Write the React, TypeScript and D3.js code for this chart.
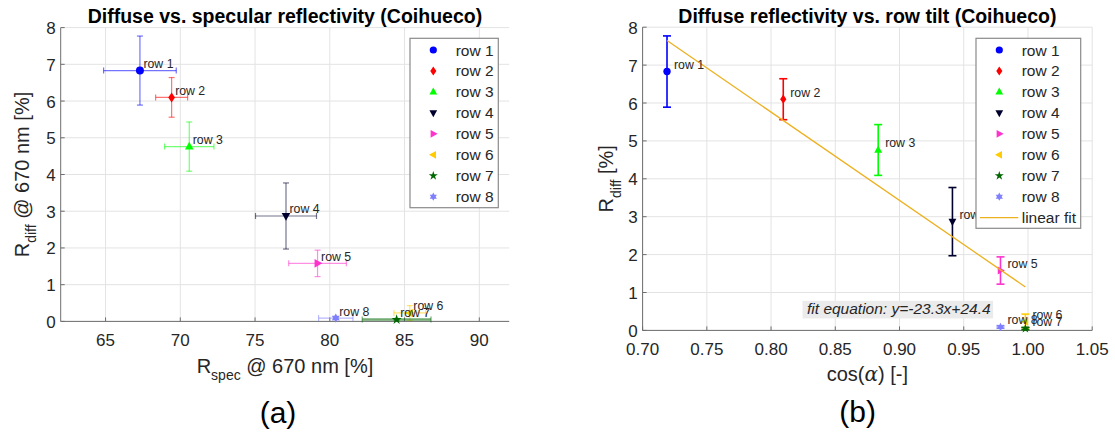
import React from "react";
import * as d3 from "d3";

// ---------- data ----------
const rows = ["row 1", "row 2", "row 3", "row 4", "row 5", "row 6", "row 7", "row 8"];
const rSpec = [67.3, 69.42, 70.6, 77.07, 79.18, 85.35, 84.47, 80.4];
const rSpecErr = [2.43, 1.07, 1.65, 2.04, 1.93, 1.06, 2.3, 1.15];
const rDiff = [6.83, 6.1, 4.76, 2.87, 1.58, 0.23, 0.05, 0.09];
const rDiffErr = [0.94, 0.54, 0.67, 0.9, 0.36, 0.2, 0.03, 0.03];
const cosAlpha = [0.719, 0.8095, 0.8834, 0.9412, 0.9786, 0.998, 0.998, 0.9786];
const fitSlope = -23.3;
const fitIntercept = 24.4;
const xTicksA = [65, 70, 75, 80, 85, 90];
const xTicksB = [0.7, 0.75, 0.8, 0.85, 0.9, 0.95, 1.0, 1.05];
const yTicks = [0, 1, 2, 3, 4, 5, 6, 7, 8];

// ---------- styles ----------
const colors = ["#0000ff", "#ff0000", "#00ff00", "#00002e", "#ff33cc", "#ffcc00", "#006600", "#8080ff"];
const shapes = ["circle", "diamond", "up", "down", "right", "left", "star5", "star6"];
const FONT = "'Liberation Sans', Arial, Helvetica, sans-serif";
const GRID = "#e3e3e3";
const AXIS = "#6e6e6e";
const TXT = "#262626";
const FIT = "#edb120";

function markerPath(shape: string, s = 1): string {
  switch (shape) {
    case "circle":
      return d3.symbol(d3.symbolCircle, 50 * s * s)() as string;
    case "diamond":
      return `M0,${-5 * s}L${3.4 * s},0L0,${5 * s}L${-3.4 * s},0Z`;
    case "up":
      return `M0,${-4.8 * s}L${4.3 * s},${3 * s}L${-4.3 * s},${3 * s}Z`;
    case "down":
      return `M0,${4.8 * s}L${4.3 * s},${-3 * s}L${-4.3 * s},${-3 * s}Z`;
    case "right":
      return `M${4.8 * s},0L${-3 * s},${-4.3 * s}L${-3 * s},${4.3 * s}Z`;
    case "left":
      return `M${-4.8 * s},0L${3 * s},${-4.3 * s}L${3 * s},${4.3 * s}Z`;
    case "star5":
      return d3.symbol(d3.symbolStar, 32 * s * s)() as string;
    case "star6": {
      const R = 4.6 * s, r = 2.6 * s;
      const pts: string[] = [];
      for (let i = 0; i < 12; i++) {
        const a = (Math.PI / 6) * i - Math.PI / 2;
        const rr = i % 2 === 0 ? R : r;
        pts.push(`${(rr * Math.cos(a)).toFixed(2)},${(rr * Math.sin(a)).toFixed(2)}`);
      }
      return "M" + pts.join("L") + "Z";
    }
  }
  return "";
}

type Scale = d3.ScaleLinear<number, number>;

function AxesFrame({ x, y, xTicks, fmt }: { x: Scale; y: Scale; xTicks: number[]; fmt: (v: number) => string }) {
  const [x0, x1] = x.range();
  const [y0, y1] = y.range();
  return (
    <g>
      {xTicks.map((t) => (
        <line key={"gx" + t} x1={x(t)} x2={x(t)} y1={y0} y2={y1} stroke={GRID} strokeWidth={1} />
      ))}
      {yTicks.map((t) => (
        <line key={"gy" + t} x1={x0} x2={x1} y1={y(t)} y2={y(t)} stroke={GRID} strokeWidth={1} />
      ))}
      <line x1={x0} x2={x1} y1={y0} y2={y0} stroke={AXIS} strokeWidth={1} />
      <line x1={x0} x2={x0} y1={y0} y2={y1} stroke={AXIS} strokeWidth={1} />
      {xTicks.map((t) => (
        <g key={"tx" + t}>
          <line x1={x(t)} x2={x(t)} y1={y0} y2={y0 - 4} stroke={AXIS} />
          <text x={x(t)} y={y0 + 24.3} textAnchor="middle" fontSize={17} fill={TXT} fontFamily={FONT}>
            {fmt(t)}
          </text>
        </g>
      ))}
      {yTicks.map((t) => (
        <g key={"ty" + t}>
          <line x1={x0} x2={x0 + 4} y1={y(t)} y2={y(t)} stroke={AXIS} />
          <text x={x0 - 5} y={y(t) + 6.5} textAnchor="end" fontSize={17} fill={TXT} fontFamily={FONT}>
            {t}
          </text>
        </g>
      ))}
    </g>
  );
}

function Legend({ x, y, w, h, rowH, withFit }: { x: number; y: number; w: number; h: number; rowH: number; withFit: boolean }) {
  return (
    <g>
      <rect x={x} y={y} width={w} height={h} fill="#fff" stroke="#8a8a8a" strokeWidth={1.2} />
      {rows.map((r, i) => (
        <g key={r}>
          <path d={markerPath(shapes[i], 0.9)} transform={`translate(${x + 23.3},${y + 11.7 + i * rowH})`} fill={colors[i]} />
          <text x={x + 45.7} y={y + 11.7 + i * rowH + 5.5} fontSize={15.5} fill={TXT} fontFamily={FONT}>
            {r}
          </text>
        </g>
      ))}
      {withFit && (
        <g>
          <line x1={x + 4} x2={x + 42.3} y1={y + 11.7 + 8 * rowH} y2={y + 11.7 + 8 * rowH} stroke={FIT} strokeWidth={1.3} />
          <text x={x + 45.7} y={y + 11.7 + 8 * rowH + 5.5} fontSize={15.5} fill={TXT} fontFamily={FONT}>
            linear fit
          </text>
        </g>
      )}
    </g>
  );
}

export default function App() {
  const xA = d3.scaleLinear().domain([62, 92]).range([60.7, 509.2]);
  const yA = d3.scaleLinear().domain([0, 8]).range([321.4, 27.6]);
  const xB = d3.scaleLinear().domain([0.7, 1.05]).range([642.6, 1092.2]);
  const yB = d3.scaleLinear().domain([0, 8]).range([330.4, 27.2]);

  const fitX = d3.extent(cosAlpha) as [number, number];
  const fitLine = d3
    .line<number>()
    .x((v) => xB(v))
    .y((v) => yB(fitSlope * v + fitIntercept))(fitX) as string;

  const capA = 3;
  const capB = 4;

  return (
    <svg width={1115} height={432} style={{ position: "absolute", left: 0, top: 0, background: "#fff" }} fontFamily={FONT}>
      <rect width={1115} height={432} fill="#fff" />

      {/* ---------- panel (a) ---------- */}
      <AxesFrame x={xA} y={yA} xTicks={xTicksA} fmt={(v) => String(v)} />
      {rows.map((r, i) => {
        const cx = xA(rSpec[i]);
        const cy = yA(rDiff[i]);
        const xl = xA(rSpec[i] - rSpecErr[i]);
        const xr = xA(rSpec[i] + rSpecErr[i]);
        const yt = yA(rDiff[i] + rDiffErr[i]);
        const yb = yA(Math.max(0, rDiff[i] - rDiffErr[i]));
        return (
          <g key={"ea" + r} stroke={colors[i]} strokeOpacity={0.55} strokeWidth={i === 6 ? 2.5 : 1.2}>
            <line x1={xl} x2={xr} y1={cy} y2={cy} />
            <line x1={xl} x2={xl} y1={cy - capA} y2={cy + capA} strokeWidth={1.2} />
            <line x1={xr} x2={xr} y1={cy - capA} y2={cy + capA} strokeWidth={1.2} />
            <line x1={cx} x2={cx} y1={yt} y2={yb} strokeWidth={1.2} />
            <line x1={cx - capA} x2={cx + capA} y1={yt} y2={yt} strokeWidth={1.2} />
            <line x1={cx - capA} x2={cx + capA} y1={yb} y2={yb} strokeWidth={1.2} />
          </g>
        );
      })}
      {rows.map((r, i) => (
        <path key={"ma" + r} d={markerPath(shapes[i])} transform={`translate(${xA(rSpec[i])},${yA(rDiff[i])})`} fill={colors[i]} />
      ))}
      {rows.map((r, i) => (
        <text key={"la" + r} x={xA(rSpec[i]) + 3.5} y={yA(rDiff[i]) - 2.5} fontSize={12.3} fill={TXT} fontFamily={FONT}>
          {r}
        </text>
      ))}
      <Legend x={410} y={38.3} w={88.3} h={169.4} rowH={20.96} withFit={false} />
      <text x={(xA.range()[0] + xA.range()[1]) / 2} y={22.5} textAnchor="middle" fontSize={19.5} fontWeight="bold" fill="#000" fontFamily={FONT}>
        Diffuse vs. specular reflectivity (Coihueco)
      </text>
      <text x={(xA.range()[0] + xA.range()[1]) / 2} y={372.5} textAnchor="middle" fontSize={20} fill={TXT} fontFamily={FONT}>
        R<tspan fontSize={14} dy={7.5}>spec</tspan>
        <tspan dy={-7.5}> @ 670 nm [%]</tspan>
      </text>
      <text transform={`translate(28.5,${(yA.range()[0] + yA.range()[1]) / 2}) rotate(-90)`} textAnchor="middle" fontSize={20} fill={TXT} fontFamily={FONT}>
        R<tspan fontSize={14} dy={7.5}>diff</tspan>
        <tspan dy={-7.5}> @ 670 nm [%]</tspan>
      </text>
      <text x={278} y={423} textAnchor="middle" fontSize={30} fill="#000" fontFamily={FONT}>
        (a)
      </text>

      {/* ---------- panel (b) ---------- */}
      <AxesFrame x={xB} y={yB} xTicks={xTicksB} fmt={(v) => v.toFixed(2)} />
      {rows.map((r, i) => {
        const cx = xB(cosAlpha[i]);
        const yt = yB(rDiff[i] + rDiffErr[i]);
        const yb = yB(Math.max(0, rDiff[i] - rDiffErr[i]));
        return (
          <g key={"eb" + r} stroke={colors[i]} strokeWidth={1.6}>
            <line x1={cx} x2={cx} y1={yt} y2={yb} />
            <line x1={cx - capB} x2={cx + capB} y1={yt} y2={yt} />
            <line x1={cx - capB} x2={cx + capB} y1={yb} y2={yb} />
          </g>
        );
      })}
      {rows.map((r, i) => (
        <path key={"mb" + r} d={markerPath(shapes[i], 0.92)} transform={`translate(${xB(cosAlpha[i])},${yB(rDiff[i])})`} fill={colors[i]} />
      ))}
      <path d={fitLine} stroke={FIT} strokeWidth={1.3} fill="none" />
      {rows.map((r, i) => (
        <text key={"lb" + r} x={xB(cosAlpha[i]) + 7} y={yB(rDiff[i]) - 2.5} fontSize={12.3} fill={TXT} fontFamily={FONT}>
          {r}
        </text>
      ))}
      <rect x={xB(0.8245)} y={yB(0.78)} width={190.6} height={17.6} fill="#ebebeb" />
      <text x={xB(0.828)} y={yB(0.43)} fontSize={15.5} fontStyle="italic" fill={TXT} fontFamily={FONT}>
        fit equation: y=-23.3x+24.4
      </text>
      <Legend x={976} y={38.3} w={104.7} h={190} rowH={20.96} withFit={true} />
      <text x={(xB.range()[0] + xB.range()[1]) / 2} y={22.5} textAnchor="middle" fontSize={19.5} fontWeight="bold" fill="#000" fontFamily={FONT}>
        Diffuse reflectivity vs. row tilt (Coihueco)
      </text>
      <text x={(xB.range()[0] + xB.range()[1]) / 2} y={381} textAnchor="middle" fontSize={20} fill={TXT} fontFamily={FONT}>
        cos(<tspan fontFamily="'DejaVu Serif', 'Liberation Serif', serif" fontStyle="italic">α</tspan>) [-]
      </text>
      <text transform={`translate(613.4,${(yB.range()[0] + yB.range()[1]) / 2}) rotate(-90)`} textAnchor="middle" fontSize={20} fill={TXT} fontFamily={FONT}>
        R<tspan fontSize={14} dy={7.5}>diff</tspan>
        <tspan dy={-7.5}> [%]</tspan>
      </text>
      <text x={857.6} y={422} textAnchor="middle" fontSize={30} fill="#000" fontFamily={FONT}>
        (b)
      </text>
    </svg>
  );
}
